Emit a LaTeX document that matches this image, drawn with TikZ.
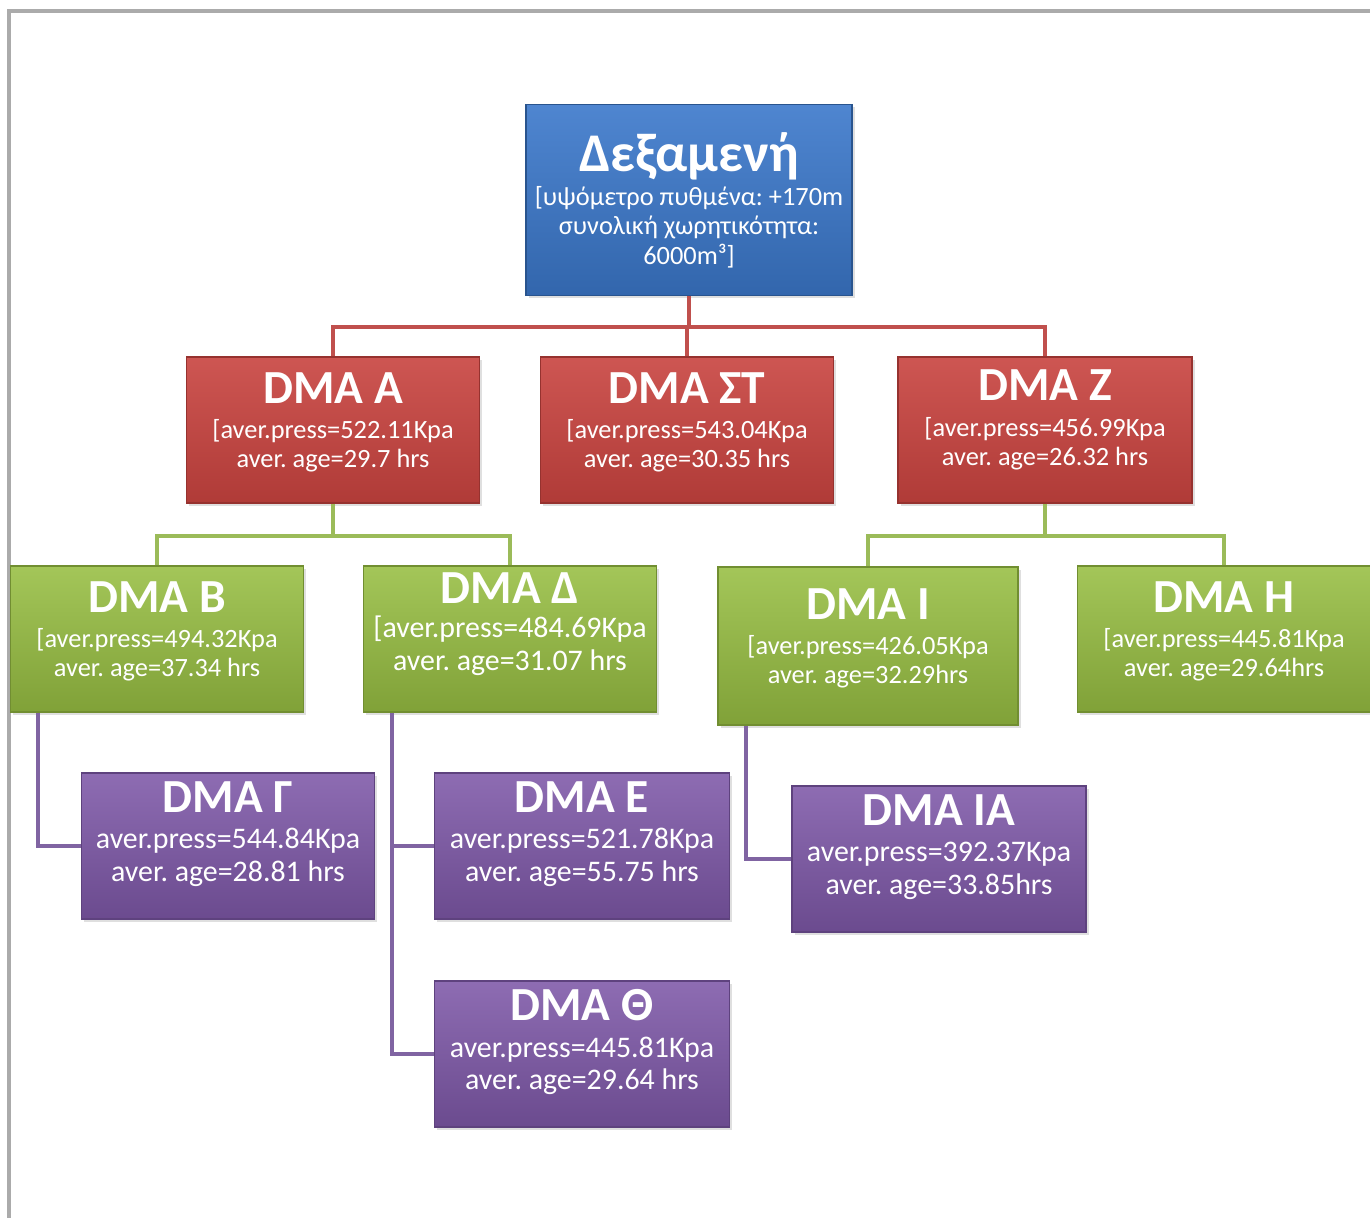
\documentclass[tikz,border=0pt]{standalone}
\usepackage{fontspec}
\setmainfont{Carlito}
\usetikzlibrary{positioning,shadows}

\definecolor{dexblue}{HTML}{3B78CB}
\definecolor{dmared}{HTML}{C8433F}
\definecolor{dmagreen}{HTML}{97BE42}
\definecolor{dmapurple}{HTML}{7E58A8}
\definecolor{linered}{HTML}{C0504D}
\definecolor{linegreen}{HTML}{9BBB59}
\definecolor{linepurple}{HTML}{8064A2}

\newcommand{\dmatitle}[1]{{\fontsize{13.5}{16}\selectfont\bfseries #1}}
\frenchspacing

\begin{document}
\begin{tikzpicture}[
        x=0.01cm, y=-0.01cm,
        box/.style={rectangle, align=center, text=white, inner sep=1pt,
            minimum width=2.93cm, minimum height=1.46cm,
            font=\fontsize{7.5}{8.3}\selectfont,
            drop shadow={opacity=0.25, shadow xshift=0.8pt, shadow yshift=-0.8pt}},
        dmabox/.style={box, text depth=5.5pt},
        bigtext/.style={font=\fontsize{8.5}{9.3}\selectfont, text depth=8.1pt},
        dexbox/.style={box, top color=dexblue!90!white, bottom color=dexblue!85!black,
            draw=dexblue!70!black, minimum width=3.26cm, minimum height=1.91cm},
        redbox/.style={dmabox, top color=dmared!90!white, bottom color=dmared!88!black,
            draw=dmared!75!black},
        greenbox/.style={dmabox, top color=dmagreen!88!white, bottom color=dmagreen!85!black,
            draw=dmagreen!75!black},
        purplebox/.style={dmabox, top color=dmapurple!88!white, bottom color=dmapurple!85!black,
            draw=dmapurple!75!black, bigtext},
        redline/.style={linered, line width=1.2pt},
        greenline/.style={linegreen, line width=1.2pt},
        purpleline/.style={linepurple, line width=1.2pt},
        frame/.style={black!33, line width=0.9pt}
    ]

    \useasboundingbox (0,0) rectangle (1370,1218);

    % --- page frame ---
    \coordinate (frametop) at (1370,11);
    \coordinate (framecorner) at (9,11);
    \coordinate (framebottom) at (9,1218);
    \draw[frame] (frametop) -- (framecorner) -- (framebottom);

    % --- Reservoir ---
    \node[dexbox] (dex) at (689,200) {{\fontsize{15.5}{18}\selectfont\bfseries Δεξαμενή}\\[1.5pt]
        [υψόμετρο πυθμένα: +170m\\ συνολική χωρητικότητα:\\ 6000m³]};

    % --- First level ---
    \node[redbox] (dmaA) at (333,430) {\dmatitle{DMA A}\\[1.7pt]
        [aver.press=522.11Kpa\\ aver. age=29.7 hrs};
    \node[redbox] (dmaST) at (687,430) {\dmatitle{DMA ΣΤ}\\[1.7pt]
        [aver.press=543.04Kpa\\ aver. age=30.35 hrs};
    \node[redbox, minimum width=2.94cm, text depth=7pt] (dmaZ) at (1045,430) {\dmatitle{DMA Z}\\[1.7pt]
        [aver.press=456.99Kpa\\ aver. age=26.32 hrs};

    % --- Second level ---
    \node[greenbox] (dmaB) at (157,639) {\dmatitle{DMA B}\\[1.7pt]
        [aver.press=494.32Kpa\\ aver. age=37.34 hrs};
    \node[greenbox, bigtext, text depth=10pt] (dmaD) at (510,639) {\dmatitle{DMA Δ}\\[0.5pt]
        [aver.press=484.69Kpa\\ aver. age=31.07 hrs};
    \node[greenbox, minimum width=3.0cm, minimum height=1.58cm] (dmaI) at (868,646) {\dmatitle{DMA I}\\[1.7pt]
        [aver.press=426.05Kpa\\ aver. age=32.29hrs};
    \node[greenbox] (dmaH) at (1224,639) {\dmatitle{DMA H}\\[1.7pt]
        [aver.press=445.81Kpa\\ aver. age=29.64hrs};

    % --- Third level ---
    \node[purplebox] (dmaG) at (228,846) {\dmatitle{DMA Γ}\\[1pt]
        aver.press=544.84Kpa\\ aver. age=28.81 hrs};
    \node[purplebox, minimum width=2.95cm] (dmaE) at (582,846) {\dmatitle{DMA E}\\[1pt]
        aver.press=521.78Kpa\\ aver. age=55.75 hrs};
    \node[purplebox, minimum width=2.95cm] (dmaTH) at (582,1054) {\dmatitle{DMA Θ}\\[1pt]
        aver.press=445.81Kpa\\ aver. age=29.64 hrs};
    \node[purplebox, minimum width=2.94cm] (dmaIA) at (939,859) {\dmatitle{DMA IA}\\[1pt]
        aver.press=392.37Kpa\\ aver. age=33.85hrs};

    % --- Connectors ---
    \coordinate (redbus) at (689,327);
    \coordinate (busA) at (333,536);
    \coordinate (busZ) at (1045,536);
    \coordinate (trunkB) at ([xshift=0.28cm]dmaB.south west);
    \coordinate (trunkD) at ([xshift=0.29cm]dmaD.south west);
    \coordinate (trunkI) at ([xshift=0.29cm]dmaI.south west);

    \draw[redline] (dex.south) -- (redbus);
    \draw[redline] (dmaA.north) |- (redbus) -| (dmaZ.north);
    \draw[redline] (dmaST.north) -- (dmaST.north |- redbus);

    \draw[greenline] (dmaA.south) -- (busA);
    \draw[greenline] (dmaB.north) |- (busA) -| (dmaD.north);
    \draw[greenline] (dmaZ.south) -- (busZ);
    \draw[greenline] (dmaI.north) |- (busZ) -| (dmaH.north);

    \draw[purpleline] (trunkB) |- (dmaG.west);
    \draw[purpleline] (trunkD) |- (dmaTH.west);
    \draw[purpleline] (trunkD |- dmaE.west) -- (dmaE.west);
    \draw[purpleline] (trunkI) |- (dmaIA.west);

\end{tikzpicture}
\end{document}
